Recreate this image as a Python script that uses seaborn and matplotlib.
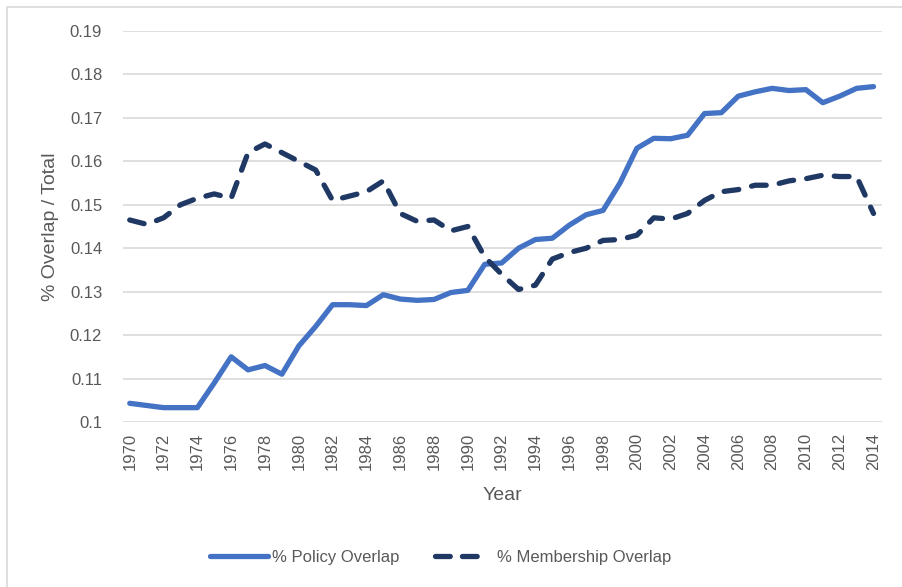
import pandas as pd
import seaborn as sns
import matplotlib.pyplot as plt
from matplotlib.lines import Line2D
from matplotlib.patches import Rectangle

# Values
years = list(range(1970, 2015))
policy_overlap = [
    0.1043, 0.1038, 0.1033, 0.1033, 0.1033, 0.1090, 0.1150, 0.1120, 0.1130, 0.1110,
    0.1175, 0.1220, 0.1270, 0.1270, 0.1268, 0.1293, 0.1283, 0.1280, 0.1282, 0.1298,
    0.1303, 0.1363, 0.1366, 0.1400, 0.1420, 0.1423, 0.1453, 0.1477, 0.1487, 0.1550,
    0.1630, 0.1653, 0.1652, 0.1660, 0.1710, 0.1712, 0.1750, 0.1760, 0.1768, 0.1763,
    0.1765, 0.1735, 0.1750, 0.1768, 0.1772,
]
membership_overlap = [
    0.1465, 0.1455, 0.1470, 0.1500, 0.1515, 0.1525, 0.1515, 0.1620, 0.1640, 0.1620,
    0.1600, 0.1580, 0.1510, 0.1520, 0.1530, 0.1555, 0.1480, 0.1462, 0.1465, 0.1440,
    0.1450, 0.1380, 0.1340, 0.1305, 0.1315, 0.1375, 0.1390, 0.1400, 0.1418, 0.1420,
    0.1430, 0.1470, 0.1467, 0.1480, 0.1510, 0.1530, 0.1535, 0.1545, 0.1545, 0.1555,
    0.1560, 0.1568, 0.1565, 0.1565, 0.1480,
]
series_names = ["% Policy Overlap", "% Membership Overlap"]
y_ticks = [0.1, 0.11, 0.12, 0.13, 0.14, 0.15, 0.16, 0.17, 0.18, 0.19]
y_tick_labels = ["0.1", "0.11", "0.12", "0.13", "0.14", "0.15", "0.16", "0.17", "0.18", "0.19"]

df = pd.DataFrame({
    "Year": years * 2,
    "Value": policy_overlap + membership_overlap,
    "Series": [series_names[0]] * len(years) + [series_names[1]] * len(years),
})

sns.set_style("white")
plt.rcParams["font.family"] = ["Liberation Sans", "DejaVu Sans"]
text_color = "#595959"
colors = {series_names[0]: "#4472C4", series_names[1]: "#1F3864"}
dash = [2.8, 2.5]

fig = plt.figure(figsize=(9.03, 5.87), dpi=100)
ax = fig.add_axes([0.1362, 0.2811, 0.8405, 0.6661])

sns.lineplot(data=df, x="Year", y="Value", hue="Series", palette=colors,
             linewidth=3.8, ax=ax, legend=False)

policy_line, member_line = ax.lines[0], ax.lines[1]
policy_line.set_solid_capstyle("round")
member_line.set_dashes(dash)
member_line.set_dash_capstyle("round")

ax.set_ylim(0.1, 0.19)
ax.set_xlim(1969.6, 2014.5)
ax.set_yticks(y_ticks)
ax.set_yticklabels(y_tick_labels)
ax.set_xticks(years[::2])
ax.set_xticklabels([str(y) for y in years[::2]], rotation=90)
ax.tick_params(axis="both", colors=text_color, labelsize=12, length=0)
ax.tick_params(axis="x", pad=8)
ax.tick_params(axis="y", pad=15)
ax.grid(axis="y", color="#D9D9D9", linewidth=1.2)
ax.set_axisbelow(True)
for side in ax.spines.values():
    side.set_visible(False)

ax.set_xlabel("Year", fontsize=14, color=text_color, labelpad=12)
ax.set_ylabel("% Overlap / Total", fontsize=14, color=text_color, labelpad=8)

# legend key shows two dashes followed by a blank gap, as in the original
leg_handles = [
    Line2D([], [], color=colors[series_names[0]], linewidth=3.8, solid_capstyle="round"),
    Line2D([], [], color=colors[series_names[1]], linewidth=3.8,
           dashes=[2.8, 2.3, 2.8, 12], dash_capstyle="round"),
]
fig.legend(leg_handles, series_names, loc="center", bbox_to_anchor=(0.488, 0.051),
           ncol=2, frameon=False, fontsize=12, handlelength=3.5, columnspacing=2.1,
           labelcolor=text_color, handletextpad=0.25)

# Chart area border
fig.add_artist(Rectangle((7 / 903, -0.05), 1.2, 1 - 7 / 587 + 0.05,
                         transform=fig.transFigure, fill=False,
                         edgecolor="#D9D9D9", linewidth=1.2))

fig.savefig("out.png", dpi=100)
